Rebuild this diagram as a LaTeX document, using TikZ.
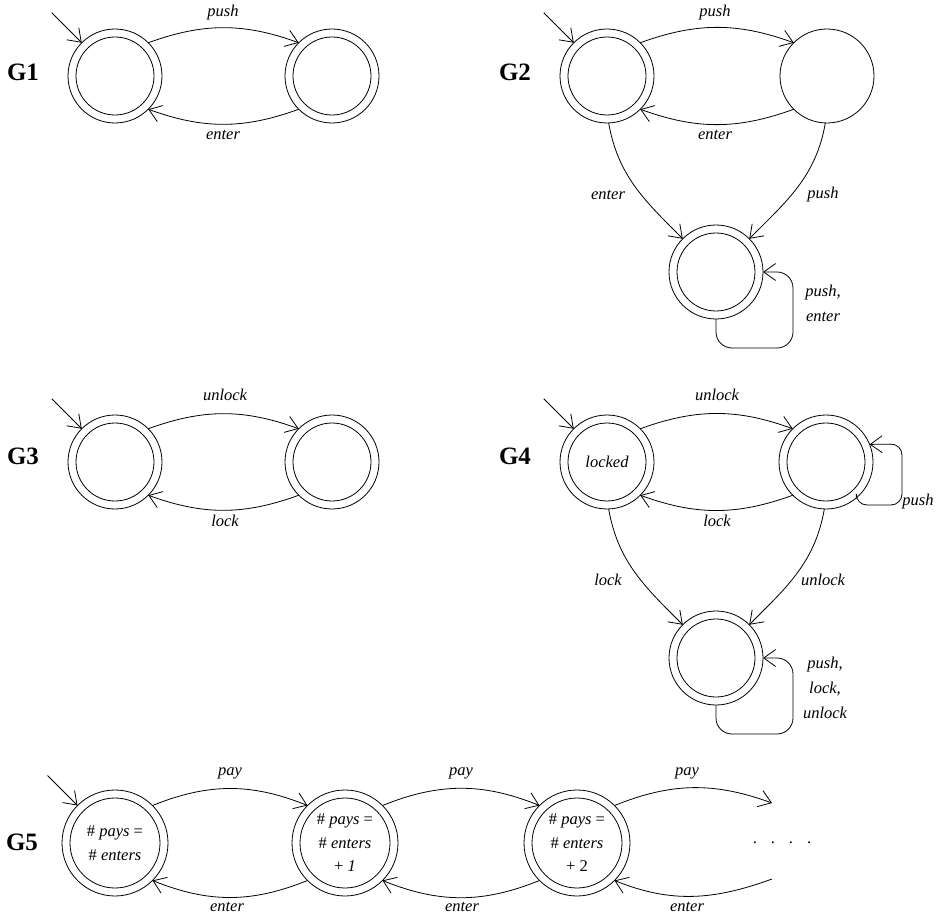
\documentclass[tikz,border=0pt]{standalone}
\usepackage{fontspec}
\setmainfont{Liberation Serif}
\usetikzlibrary{arrows.meta}
\newcommand\uprm[1]{{\upshape #1}}
\begin{document}
\begin{tikzpicture}[x=1pt,y=1pt,line width=0.8pt,
  arr/.style={-{Straight Barb[length=12pt,width=17pt]}},
  st/.style={circle,draw,minimum size=94pt,inner sep=0pt,outer sep=0pt},
  acc/.style={st,path picture={\draw[line width=0.8pt] (path picture bounding box.center) circle (39pt);}},
  accbig/.style={circle,draw,minimum size=106pt,inner sep=0pt,outer sep=0pt,align=center,
    font=\fontsize{16.5}{23.5}\selectfont\itshape,
    path picture={\draw[line width=0.8pt] (path picture bounding box.center) circle (45pt);}},
  lab/.style={font=\fontsize{16.5}{25}\selectfont\itshape, inner sep=0pt},
  glab/.style={font=\fontsize{25}{30}\selectfont\bfseries, inner sep=0pt}
]
\useasboundingbox (0,0) rectangle (938,-920);

% ---------- G1 ----------
\node[glab] (g1) at (23,-72) {G1};
\node[acc] (A1) at (115,-76) {};
\node[acc] (B1) at (332,-76) {};
\coordinate (i1) at ([shift={(-30,30)}]A1.135);
\draw[arr] (i1) -- (A1.135);
\draw[arr] (A1.45) to[out=20,in=160] (B1.135);
\draw[arr] (B1.225) to[out=200,in=-20] (A1.-45);
\node[lab] (l1a) at (223,-13) {push};
\node[lab] (l1b) at (223,-135) {enter};

% ---------- G2 ----------
\node[glab] (g2) at (515,-72) {G2};
\node[acc] (A2) at (607,-76) {};
\node[st] (B2) at (827,-76) {};
\node[acc] (C2) at (716,-272) {};
\coordinate (i2) at ([shift={(-30,30)}]A2.135);
\draw[arr] (i2) -- (A2.135);
\draw[arr] (A2.45) to[out=20,in=160] (B2.135);
\draw[arr] (B2.225) to[out=200,in=-20] (A2.-45);
\draw[arr] (A2.-88) to[out=-80,in=135] (C2.135);
\draw[arr] (B2.-92) to[out=-100,in=45] (C2.45);
\draw[arr,rounded corners=16pt] (C2.south) -- (716,-348) -- (793,-348) -- (793,-272) -- (C2.east);
\node[lab] (l2a) at (715,-13) {push};
\node[lab] (l2b) at (715,-135) {enter};
\node[lab] (l2c) at (608,-195) {enter};
\node[lab] (l2d) at (823,-195) {push};
\node[lab,align=center] (l2e) at (823,-303) {push,\\enter};

% ---------- G3 ----------
\node[glab] (g3) at (23,-456) {G3};
\node[acc] (A3) at (115,-462) {};
\node[acc] (B3) at (332,-462) {};
\coordinate (i3) at ([shift={(-30,30)}]A3.135);
\draw[arr] (i3) -- (A3.135);
\draw[arr] (A3.45) to[out=20,in=160] (B3.135);
\draw[arr] (B3.225) to[out=200,in=-20] (A3.-45);
\node[lab] (l3a) at (225,-395) {unlock};
\node[lab] (l3b) at (225,-521) {lock};

% ---------- G4 ----------
\node[glab] (g4) at (515,-456) {G4};
\node[acc,lab] (A4) at (607,-462) {locked};
\node[acc] (B4) at (826,-462) {};
\node[acc] (C4) at (716,-658) {};
\coordinate (i4) at ([shift={(-30,30)}]A4.135);
\draw[arr] (i4) -- (A4.135);
\draw[arr] (A4.45) to[out=20,in=160] (B4.135);
\draw[arr] (B4.225) to[out=200,in=-20] (A4.-45);
\draw[arr] (A4.-88) to[out=-80,in=135] (C4.135);
\draw[arr] (B4.-92) to[out=-100,in=45] (C4.45);
\draw[arr,rounded corners=16pt] (C4.south) -- (716,-734) -- (793,-734) -- (793,-658) -- (C4.east);
\draw[arr,rounded corners=11pt] (B4.-50) -- (856,-505) -- (902,-505) -- (902,-444) -- (B4.22);
\node[lab] (l4a) at (717,-395) {unlock};
\node[lab] (l4b) at (717,-521) {lock};
\node[lab] (l4c) at (608,-580) {lock};
\node[lab] (l4d) at (823,-580) {unlock};
\node[lab] (l4e) at (918,-502) {push};
\node[lab,align=center] (l4f) at (825,-688) {push,\\lock,\\unlock};

% ---------- G5 ----------
\node[glab] (g5) at (22,-842) {G5};
\node[accbig] (N1) at (115,-843) {\uprm{\#} pays \uprm{=}\\\uprm{\#} enters};
\node[accbig] (N2) at (345,-843) {\uprm{\#} pays \uprm{=}\\\uprm{\#} enters\\\uprm{+} 1};
\node[accbig] (N3) at (577,-843) {\uprm{\#} pays \uprm{=}\\\uprm{\#} enters\\\uprm{+ 2}};
\coordinate (i5) at ([shift={(-30,30)}]N1.135);
\coordinate (p3) at (772,-803);
\coordinate (e3) at (772,-879);
\draw[arr] (i5) -- (N1.135);
\draw[arr] (N1.45) to[out=22,in=158] (N2.135);
\draw[arr] (N2.45) to[out=22,in=158] (N3.135);
\draw[arr] (N3.45) to[out=22,in=160] (p3);
\draw[arr] (N2.225) to[out=202,in=-22] (N1.-45);
\draw[arr] (N3.225) to[out=202,in=-22] (N2.-45);
\draw[arr] (e3) to[out=200,in=-22] (N3.-45);
\node[lab] (l5a) at (230,-773) {pay};
\node[lab] (l5b) at (461,-773) {pay};
\node[lab] (l5c) at (687,-773) {pay};
\node[lab] (l5d) at (227,-907) {enter};
\node[lab] (l5e) at (462,-907) {enter};
\node[lab] (l5f) at (687,-907) {enter};
\node[lab,anchor=base] (dots) at (782,-843) {\upshape .\hspace{14pt}.\hspace{14pt}.\hspace{14pt}.};
\end{tikzpicture}
\end{document}
